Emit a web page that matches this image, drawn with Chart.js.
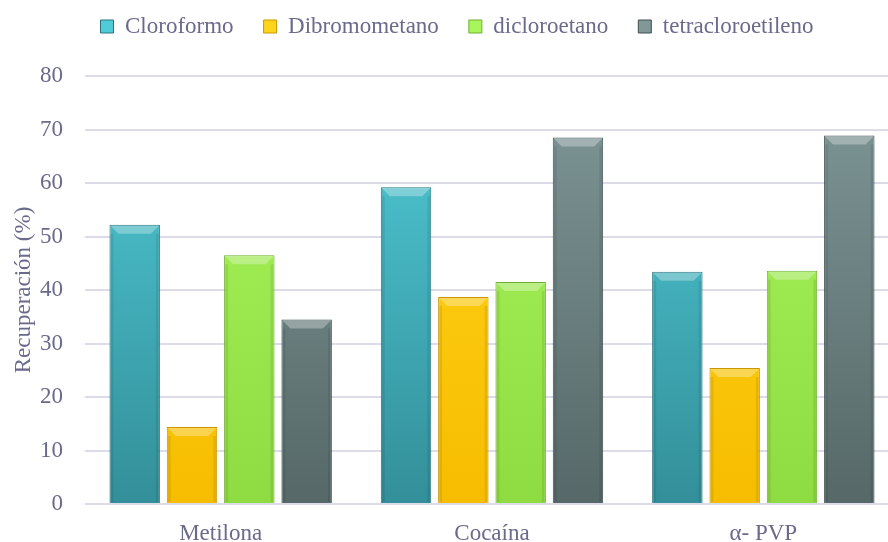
<!DOCTYPE html>
<html>
<head>
<meta charset="utf-8">
<script src="https://cdn.jsdelivr.net/npm/chart.js@4"></script>
<style>
  html, body { margin: 0; padding: 0; background: #fff; }
  #wrap { width: 888px; height: 542px; }
</style>
</head>
<body>
<div id="wrap"><canvas id="myChart" width="888" height="542"></canvas></div>
<script>
const categories = ['Metilona', 'Cocaína', 'α- PVP'];
const seriesNames = ['Cloroformo', 'Dibromometano', 'dicloroetano', 'tetracloroetileno'];
const cloroformo = [52.2, 59.2, 43.4];
const dibromometano = [14.4, 38.7, 25.4];
const dicloroetano = [46.5, 41.5, 43.6];
const tetracloroetileno = [34.5, 68.5, 68.9];
const yTicks = [0, 10, 20, 30, 40, 50, 60, 70, 80];

// top colour, bottom colour, border
const palette = [
  ['#50ccd8', '#338f99', '#2a7480'],
  ['#ffd51c', '#f7bd00', '#c99600'],
  ['#a8f55c', '#8edb42', '#6fae30'],
  ['#809898', '#566868', '#3f4f4f'],
];

const fillFor = (i) => (ctx) => {
  const area = ctx.chart.chartArea;
  if (!area) return palette[i][0];
  const g = ctx.chart.ctx.createLinearGradient(0, area.top, 0, area.bottom);
  g.addColorStop(0, palette[i][0]);
  g.addColorStop(1, palette[i][1]);
  return g;
};

// bevel look: light top strip, slightly darker sides
const bevel = {
  id: 'bevel',
  afterDatasetsDraw(chart) {
    const c = chart.ctx;
    chart.data.datasets.forEach((ds, i) => {
      chart.getDatasetMeta(i).data.forEach((bar) => {
        const w = bar.width;
        const x0 = bar.x - w / 2, x1 = bar.x + w / 2, y = bar.y, b = bar.base;
        c.save();
        c.fillStyle = 'rgba(255,255,255,0.3)';
        c.beginPath();
        c.moveTo(x0 + 1, y + 1);
        c.lineTo(x1 - 1, y + 1);
        c.lineTo(x1 - 9, y + 9);
        c.lineTo(x0 + 9, y + 9);
        c.closePath();
        c.fill();
        c.fillStyle = 'rgba(0,0,0,0.08)';
        c.fillRect(x0 + 1, y + 9, 3, b - y - 10);
        c.fillRect(x1 - 4, y + 9, 3, b - y - 10);
        c.restore();
      });
    });
  },
};

// legend spacing, and plot area running a little past the right edge (as in the original)
const layoutTweaks = {
  id: 'layoutTweaks',
  beforeInit(chart) {
    const fit = chart.legend.fit;
    chart.legend.fit = function () {
      fit.call(this);
      this.height += 28;
    };
  },
  afterLayout(chart) {
    chart.legend.left += 10;
    chart.legend.right += 10;
    const x = chart.scales.x;
    x.right += 11;
    x.width += 11;
    x.configure();
    chart.chartArea.right += 11;
    chart.chartArea.width += 11;
  },
};

const values = [cloroformo, dibromometano, dicloroetano, tetracloroetileno];
const textColor = '#6a6a8c';
const serif = "'Liberation Serif', 'Times New Roman', serif";

new Chart(document.getElementById('myChart').getContext('2d'), {
  type: 'bar',
  data: {
    labels: categories,
    datasets: seriesNames.map((name, i) => ({
      label: name,
      data: values[i],
      backgroundColor: fillFor(i),
      borderColor: palette[i][2],
      borderWidth: 1,
      barPercentage: 0.88,
      categoryPercentage: 0.845,
    })),
  },
  options: {
    responsive: false,
    animation: false,
    layout: { padding: { left: 6, right: 0, top: -15, bottom: 0 } },
    plugins: {
      legend: {
        position: 'top',
        labels: {
          color: textColor,
          font: { family: serif, size: 23 },
          boxWidth: 13,
          boxHeight: 13,
          padding: 30,
          generateLabels(chart) {
            return chart.data.datasets.map((ds, i) => ({
              text: ds.label,
              fillStyle: palette[i][0],
              strokeStyle: palette[i][2],
              lineWidth: 1,
              fontColor: textColor,
              datasetIndex: i,
            }));
          },
        },
      },
      tooltip: { enabled: false },
    },
    scales: {
      x: {
        grid: { display: false },
        border: { display: false },
        ticks: { color: textColor, font: { family: serif, size: 23 }, padding: 8 },
        afterFit(axis) { axis.height = 38; },
      },
      y: {
        min: 0,
        max: 80,
        afterBuildTicks(axis) { axis.ticks = yTicks.map(v => ({ value: v })); },
        afterFit(axis) { axis.width = 79; },
        grid: { color: '#dcdce8', lineWidth: 2, drawTicks: false },
        border: { display: false },
        ticks: { color: textColor, font: { family: serif, size: 23 }, padding: 22 },
        title: {
          display: true,
          text: 'Recuperación (%)',
          color: textColor,
          font: { family: serif, size: 23 },
          padding: 4,
        },
      },
    },
  },
  plugins: [bevel, layoutTweaks],
});
</script>
</body>
</html>
